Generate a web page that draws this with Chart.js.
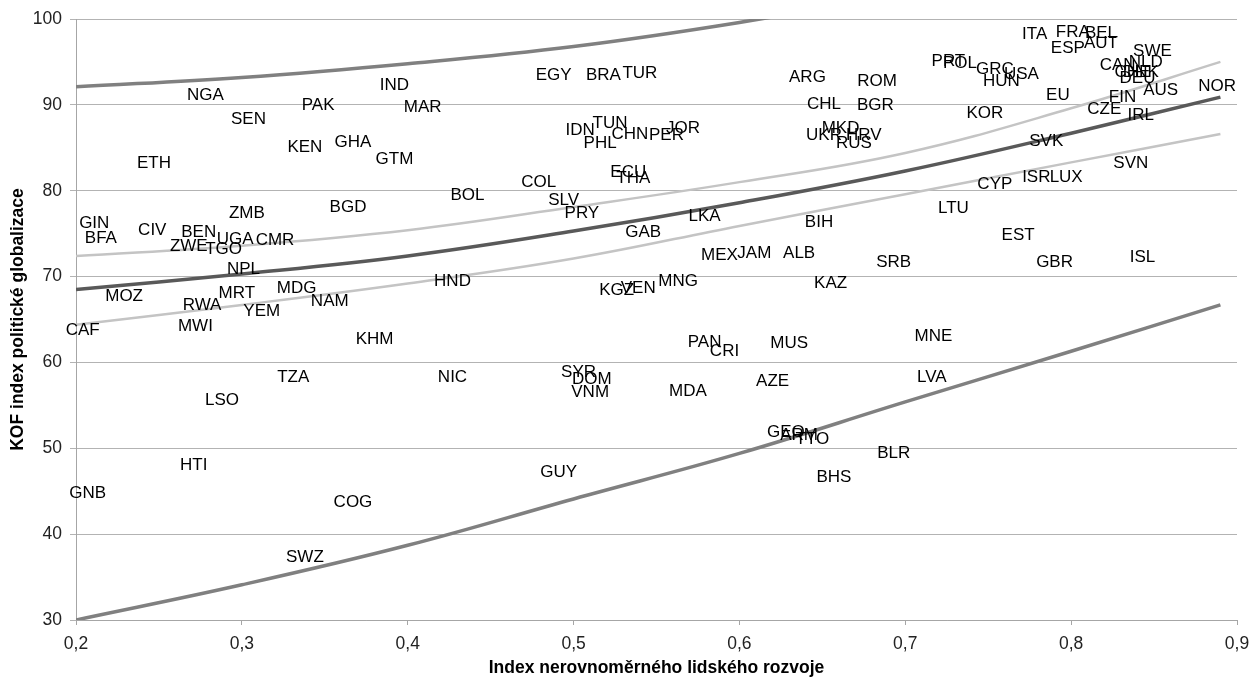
<!DOCTYPE html>
<html>
<head>
<meta charset="utf-8">
<script src="https://cdn.jsdelivr.net/npm/chart.js@4.4.0/dist/chart.umd.min.js"></script>
<style>
  body { margin: 0; background: #fff; }
  canvas { display: block; }
</style>
</head>
<body>
<canvas id="kofChart" width="1252" height="677"></canvas>
<script>
// country codes and their values
const countryCodes = [
  "NGA", "SEN", "PAK", "IND", "MAR", "KEN", "GHA", "GTM", "ETH", "BOL",
  "GIN", "BFA", "CIV", "BEN", "ZMB", "BGD", "ZWE", "TGO", "UGA", "CMR",
  "NPL", "HND", "MOZ", "RWA", "MRT", "MDG", "NAM", "YEM", "CAF", "MWI",
  "KHM", "TZA", "NIC", "LSO", "HTI", "GNB", "COG", "SWZ",
  "EGY", "BRA", "TUR", "ARG", "ROM", "CHL", "BGR", "IDN", "TUN", "PHL",
  "CHN", "PER", "JOR", "ECU", "THA", "COL", "SLV", "PRY", "LKA", "GAB",
  "BIH", "MEX", "JAM", "ALB", "MNG", "KGZ", "VEN", "KAZ", "UKR", "MKD",
  "HRV", "RUS",
  "PRT", "POL", "GRC", "USA", "HUN", "KOR", "EU", "ITA", "FRA", "BEL",
  "ESP", "AUT", "SWE", "CAN", "NLD", "CHE", "DNK", "DEU", "FIN", "AUS",
  "NOR", "CZE", "IRL", "SVK", "SVN", "ISR", "LUX", "CYP", "LTU", "EST",
  "SRB", "GBR", "ISL",
  "PAN", "CRI", "MUS", "SYR", "DOM", "VNM", "MDA", "AZE", "GEO", "ARM",
  "TTO", "GUY", "BHS", "MNE", "LVA", "BLR"
];
const inequalityIndex = [
  0.278, 0.304, 0.346, 0.392, 0.409, 0.338, 0.367, 0.392, 0.247, 0.436,
  0.211, 0.215, 0.246, 0.274, 0.303, 0.364, 0.268, 0.289, 0.296, 0.320,
  0.301, 0.427, 0.229, 0.276, 0.297, 0.333, 0.353, 0.312, 0.204, 0.272,
  0.380, 0.331, 0.427, 0.288, 0.271, 0.207, 0.367, 0.338,
  0.488, 0.518, 0.540, 0.641, 0.683, 0.651, 0.682, 0.504, 0.522, 0.516,
  0.534, 0.556, 0.566, 0.533, 0.536, 0.479, 0.494, 0.505, 0.579, 0.542,
  0.648, 0.588, 0.609, 0.636, 0.563, 0.526, 0.539, 0.655, 0.651, 0.661,
  0.675, 0.669,
  0.726, 0.733, 0.754, 0.770, 0.758, 0.748, 0.792, 0.778, 0.801, 0.818,
  0.798, 0.818, 0.849, 0.828, 0.845, 0.837, 0.842, 0.840, 0.831, 0.854,
  0.888, 0.820, 0.842, 0.785, 0.836, 0.779, 0.797, 0.754, 0.729, 0.768,
  0.693, 0.790, 0.843,
  0.579, 0.591, 0.630, 0.503, 0.511, 0.510, 0.569, 0.620, 0.628, 0.636,
  0.644, 0.491, 0.657, 0.717, 0.716, 0.693
];
const kofPolitical = [
  91.1, 88.3, 90.0, 92.3, 89.7, 85.1, 85.6, 83.7, 83.2, 79.5,
  76.2, 74.4, 75.4, 75.2, 77.4, 78.1, 73.5, 73.2, 74.3, 74.2,
  70.8, 69.4, 67.7, 66.6, 68.0, 68.6, 67.1, 65.9, 63.7, 64.2,
  62.7, 58.3, 58.3, 55.6, 48.0, 44.7, 43.7, 37.3,
  93.4, 93.4, 93.7, 93.2, 92.7, 90.1, 90.0, 87.0, 87.85, 85.5,
  86.6, 86.5, 87.3, 82.2, 81.4, 81.0, 78.9, 77.4, 77.0, 75.2,
  76.3, 72.5, 72.7, 72.7, 69.5, 68.4, 68.6, 69.2, 86.5, 87.3,
  86.5, 85.5,
  95.1, 94.8, 94.1, 93.6, 92.8, 89.0, 91.1, 98.25, 98.4, 98.3,
  96.6, 97.2, 96.2, 94.6, 95.0, 93.8, 93.8, 93.1, 90.9, 91.65,
  92.2, 89.5, 88.8, 85.8, 83.2, 81.6, 81.6, 80.7, 77.9, 74.8,
  71.7, 71.7, 72.3,
  62.3, 61.3, 62.2, 58.8, 58.0, 56.5, 56.6, 57.75, 51.9, 51.5,
  51.1, 47.2, 46.6, 63.0, 58.3, 49.4
];

// fitted curve and bands, read at these x positions
const fitX = [0.2, 0.3, 0.4, 0.5, 0.6, 0.7, 0.8, 0.89];
const fitLine = [68.5, 70.3, 72.4, 75.3, 78.6, 82.3, 86.7, 90.9];
const confUpper = [72.4, 73.6, 75.4, 78.1, 81.0, 84.4, 89.6, 95.0];
const confLower = [64.4, 66.7, 69.2, 72.1, 75.9, 79.6, 83.3, 86.6];
const predLower = [30.0, 34.1, 38.7, 44.1, 49.4, 55.4, 61.3, 66.7];
const predUpperX = [0.2, 0.3, 0.4, 0.5, 0.6, 0.7];
const predUpper = [92.1, 93.2, 94.8, 96.8, 99.6, 103.0];

const FONT = "'Liberation Sans', Arial, sans-serif";

function toPoints(xs, ys) {
  return xs.map((x, i) => ({ x: x, y: ys[i] }));
}

function curve(label, xs, ys, color, width) {
  return {
    label: label,
    data: toPoints(xs, ys),
    showLine: true,
    borderColor: color,
    borderWidth: width,
    pointRadius: 0,
    tension: 0.4,
    fill: false,
  };
}

// draws the country code text at each point of the first dataset
const codeLabels = {
  id: "codeLabels",
  afterDatasetsDraw(chart) {
    const meta = chart.getDatasetMeta(0);
    const ctx = chart.ctx;
    ctx.save();
    ctx.font = "17px " + FONT;
    ctx.fillStyle = "#000";
    ctx.textAlign = "center";
    ctx.textBaseline = "middle";
    meta.data.forEach((pt, i) => {
      ctx.fillText(countryCodes[i], pt.x, pt.y);
    });
    ctx.restore();
  },
};

const config = {
  type: "scatter",
  data: {
    datasets: [
      {
        label: "countries",
        data: toPoints(inequalityIndex, kofPolitical),
        pointRadius: 0,
        showLine: false,
      },
      curve("predUpper", predUpperX, predUpper, "#808080", 3.5),
      curve("confUpper", fitX, confUpper, "#c4c4c4", 2.5),
      curve("confLower", fitX, confLower, "#c4c4c4", 2.5),
      curve("predLower", fitX, predLower, "#808080", 3.5),
      curve("fit", fitX, fitLine, "#595959", 3.5),
    ],
  },
  options: {
    responsive: false,
    animation: false,
    devicePixelRatio: 1,
    layout: { padding: { top: 19, right: 15, left: 0, bottom: 0 } },
    plugins: {
      legend: { display: false },
      tooltip: { enabled: false },
    },
    scales: {
      x: {
        type: "linear",
        min: 0.2,
        max: 0.9,
        afterFit: (scale) => {
          scale.height = 57;
          scale.paddingLeft = 0;
          scale.paddingRight = 0;
        },
        ticks: {
          stepSize: 0.1,
          padding: 9,
          color: "#222",
          font: { family: FONT, size: 17.5 },
          callback: (v) => v.toFixed(1).replace(".", ","),
        },
        grid: {
          drawOnChartArea: false,
          drawTicks: true,
          tickLength: 5,
          color: "#a6a6a6",
        },
        border: { color: "#a6a6a6" },
        title: {
          display: true,
          text: "Index nerovnoměrného lidského rozvoje",
          color: "#000",
          font: { family: FONT, size: 17.5, weight: "bold", lineHeight: 1.0 },
          padding: { top: 0, bottom: 0 },
        },
      },
      y: {
        min: 30,
        max: 100,
        afterFit: (scale) => { scale.width = 76; },
        ticks: {
          stepSize: 10,
          padding: 8,
          color: "#222",
          font: { family: FONT, size: 17.5 },
        },
        grid: {
          color: "#b3b3b3",
          tickLength: 6,
        },
        border: { color: "#a6a6a6" },
        title: {
          display: true,
          text: "KOF index politické globalizace",
          color: "#000",
          font: { family: FONT, size: 17.5, weight: "bold", lineHeight: 1.2 },
          padding: { top: 7.5, bottom: 0 },
        },
      },
    },
  },
  plugins: [codeLabels],
};

const kofChart = new Chart(document.getElementById("kofChart"), config);
</script>
</body>
</html>
